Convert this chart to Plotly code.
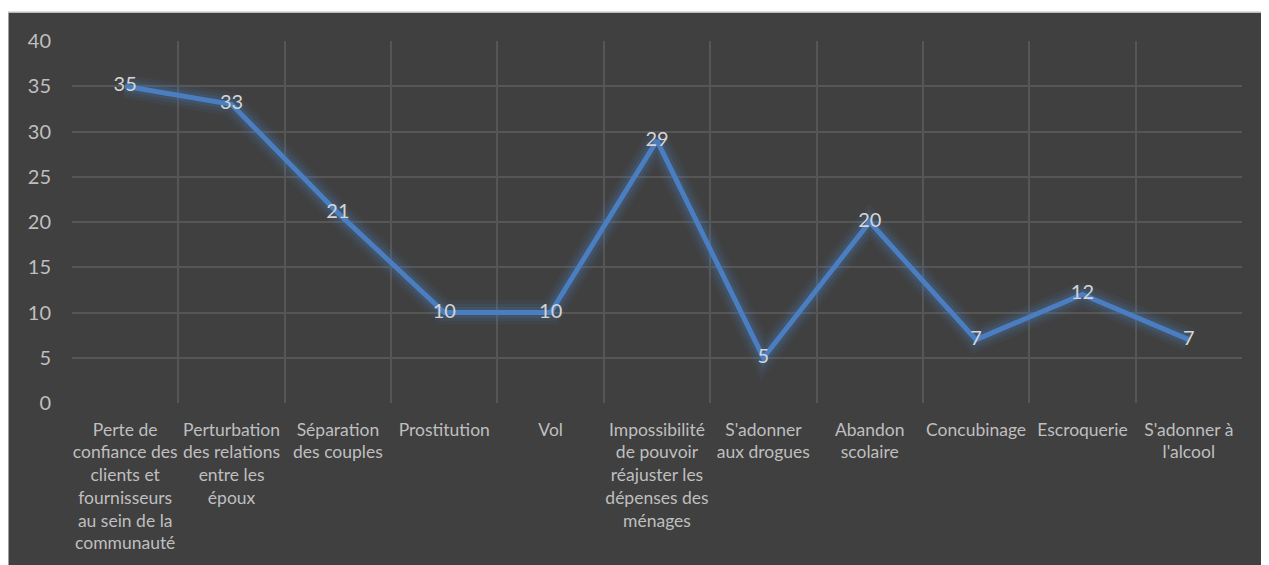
import plotly.graph_objects as go

categories = [
    "Perte de<br>confiance des<br>clients et<br>fournisseurs<br>au sein de la<br>communauté",
    "Perturbation<br>des relations<br>entre les<br>époux",
    "Séparation<br>des couples",
    "Prostitution",
    "Vol",
    "Impossibilité<br>de pouvoir<br>réajuster les<br>dépenses des<br>ménages",
    "S'adonner<br>aux drogues",
    "Abandon<br>scolaire",
    "Concubinage",
    "Escroquerie",
    "S'adonner à<br>l'alcool",
]
values = [35, 33, 21, 10, 10, 29, 5, 20, 7, 12, 7]
y_ticks = [0, 5, 10, 15, 20, 25, 30, 35, 40]

# page body adds 8px margin; figure sized to fill the rest of the window
W, H = 1261, 557
ml, mr, mt, mb = 64, 27, 33, 160
pw, ph = W - ml - mr, H - mt - mb

BG = "#404040"
GRID = "#565656"
TXT = "#BFBFBF"
LINE = "#4A7EC0"
FONT = "Lato"

fig = go.Figure()
# glow layers
for w, a in [(24, 0.08), (17, 0.11), (11, 0.16)]:
    fig.add_trace(go.Scatter(x=categories, y=values, mode="lines",
                             line=dict(color=f"rgba(74,126,192,{a})", width=w),
                             hoverinfo="skip", showlegend=False))
fig.add_trace(go.Scatter(
    x=categories, y=values, mode="lines+text",
    line=dict(color=LINE, width=5),
    text=[str(v) for v in values], textposition="middle center",
    textfont=dict(family=FONT, size=20, color="#D4D4D4"),
    showlegend=False,
))

# dark chart background with thin border (small white strip on top like the reference)
x0 = (0 - ml) / pw
x1 = (W - ml) / pw
y1 = (H - mb - 4) / ph
y0 = (H - mb - H) / ph
fig.add_shape(type="rect", xref="paper", yref="paper", x0=x0, x1=x1 + 0.01, y0=y0 - 0.01, y1=y1,
              fillcolor=BG, line=dict(color="#BDBDBD", width=1.5), layer="below")

fig.update_layout(
    width=W, height=H,
    margin=dict(l=ml, r=mr, t=mt, b=mb),
    paper_bgcolor="white",
    plot_bgcolor="rgba(0,0,0,0)",
    font=dict(family=FONT, color=TXT),
    xaxis=dict(
        type="category", range=[-0.5, len(categories) - 0.5],
        tickson="boundaries", showgrid=True, gridcolor=GRID, gridwidth=1.5,
        ticks="", showline=False, zeroline=False,
        tickfont=dict(family=FONT, size=17.5, color=TXT),
        tickangle=0, ticklabelstandoff=14,
    ),
    yaxis=dict(
        range=[0, 40], tickvals=y_ticks, showgrid=True, gridcolor=GRID, gridwidth=1.5,
        zeroline=False, showline=False, ticks="",
        tickfont=dict(family=FONT, size=20, color=TXT),
        ticklabelstandoff=20,
    ),
)

fig.write_html("out.html")
